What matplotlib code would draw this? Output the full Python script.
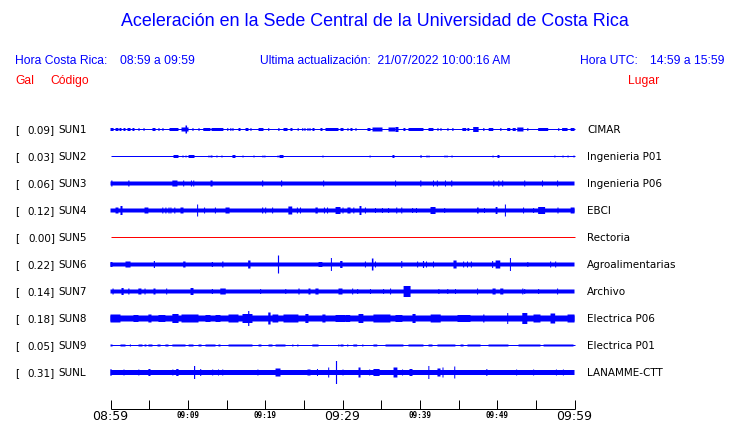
import matplotlib

matplotlib.use("Agg")
import matplotlib.pyplot as plt

BLUE = "#0000ff"
RED = "#ff0000"

STATIONS = ["SUN1", "SUN2", "SUN3", "SUN4", "SUN5", "SUN6", "SUN7", "SUN8", "SUN9", "SUNL"]
PEAK_GAL = [0.09, 0.03, 0.06, 0.12, 0.00, 0.22, 0.14, 0.18, 0.05, 0.31]
PLACES = ["CIMAR", "Ingenieria P01", "Ingenieria P06", "EBCI", "Rectoria",
          "Agroalimentarias", "Archivo", "Electrica P06", "Electrica P01", "LANAMME-CTT"]
# background noise half-amplitude of each trace (display units)
BASE_AMP = [0.5, 0.5, 2.0, 2.0, 0.5, 2.0, 2.0, 3.0, 0.5, 2.5]

TIME_TICKS = list(range(0, 61, 5))
TIME_LABELS = {0: "08:59", 10: "09:09", 20: "09:19", 30: "09:29", 40: "09:39", 50: "09:49", 60: "09:59"}
MAJOR_LABELS = [0, 30, 60]

# bursts: (start minute, end minute, half-amplitude)
SUN1_BURSTS = [
    (0.0, 0.4, 1.5), (0.65, 1.03, 1.5), (1.16, 1.42, 1.5), (1.68, 1.94, 1.5), (2.2, 2.59, 1.5),
    (2.84, 3.1, 1.5), (3.62, 3.75, 1.5), (4.27, 4.4, 1.5), (5.43, 5.82, 1.5), (6.2, 6.34, 1.5),
    (6.72, 6.85, 1.5), (7.63, 8.79, 1.5), (9.18, 10.09, 2.0), (9.7, 9.9, 4.0), (10.6, 10.73, 1.5),
    (11.38, 11.51, 1.5), (12.0, 12.93, 1.5), (13.06, 14.6, 1.5), (15.1, 15.23, 1.5), (15.5, 15.6, 1.5),
    (15.77, 15.9, 1.5), (16.55, 16.81, 1.5), (17.46, 17.84, 1.5), (18.1, 18.2, 1.5), (19.14, 19.78, 1.5),
    (20.4, 20.5, 1.5), (21.7, 21.85, 1.5), (22.37, 22.89, 1.5), (23.27, 23.53, 1.5), (24.2, 24.3, 1.5),
    (24.8, 24.9, 1.5), (25.08, 25.2, 1.5), (25.47, 25.6, 1.5), (25.73, 25.85, 1.5), (26.12, 26.38, 1.5),
    (27.15, 27.41, 1.5), (27.8, 29.48, 1.5), (29.74, 30.13, 1.5), (30.64, 30.75, 1.5), (31.03, 31.29, 1.5),
    (31.68, 31.8, 1.5), (33.23, 33.62, 1.5), (33.88, 35.17, 2.0), (35.95, 36.85, 2.0), (36.85, 37.24, 2.5),
    (37.88, 38.14, 1.5), (38.53, 40.47, 1.5), (41.12, 41.76, 1.5), (42.28, 42.4, 1.5), (42.67, 42.8, 1.5),
    (43.57, 43.7, 1.5), (44.2, 44.35, 1.5), (45.5, 46.0, 1.5), (46.15, 46.4, 1.5), (46.9, 47.6, 2.5),
    (48.2, 48.35, 1.5), (48.9, 49.5, 1.5), (50.4, 50.55, 1.5), (51.3, 51.7, 1.5), (52.0, 52.4, 1.5),
    (52.6, 53.4, 2.0), (53.9, 54.0, 1.5), (55.3, 56.6, 1.5), (57.9, 58.0, 1.5), (58.4, 59.1, 1.5),
    (59.5, 60.0, 1.5),
]
SUN2_BURSTS = [
    (8.15, 8.79, 1.5), (9.3, 9.45, 1.0), (9.7, 9.8, 1.0), (10.09, 10.86, 1.5), (12.67, 12.8, 1.0),
    (12.93, 13.19, 1.0), (13.7, 13.83, 1.0), (14.35, 14.48, 1.0), (15.77, 16.16, 1.5), (17.07, 17.2, 1.0),
    (18.49, 18.62, 1.0), (19.65, 19.78, 1.0), (19.9, 20.0, 1.0), (21.6, 21.7, 1.0), (21.85, 22.37, 1.5),
    (27.41, 27.54, 1.0), (33.5, 33.62, 1.0), (36.46, 36.72, 1.5), (40.09, 40.2, 1.5), (40.86, 41.0, 1.0),
    (41.12, 41.25, 1.0), (43.19, 43.3, 1.0), (43.45, 43.57, 1.0), (44.1, 44.2, 1.0), (49.4, 49.5, 1.0),
    (50.04, 50.3, 1.5), (57.4, 57.5, 1.0), (58.45, 58.55, 1.0), (59.1, 59.2, 1.0), (59.87, 60.0, 1.0),
]
SUN3_BURSTS = [
    (0.1, 0.25, 3.0), (2.3, 2.45, 3.0), (8.0, 8.66, 3.0), (9.4, 9.5, 3.0), (10.4, 10.5, 3.0),
    (10.7, 10.8, 3.0), (12.93, 13.2, 3.0), (19.6, 19.75, 3.0), (22.05, 22.2, 3.0), (27.5, 27.6, 3.0),
    (36.8, 36.9, 3.0), (40.05, 40.2, 3.0), (41.7, 41.8, 3.0), (42.2, 42.3, 3.0), (43.25, 43.35, 3.0),
    (44.05, 44.2, 3.0), (49.5, 49.6, 3.0), (50.15, 50.25, 3.0), (50.65, 50.75, 3.0), (53.5, 53.6, 3.0),
    (55.8, 55.9, 3.0), (57.75, 57.85, 3.0),
]
SUN4_BURSTS = [
    (0.65, 1.03, 3.0), (1.29, 1.55, 4.5), (4.4, 4.9, 3.0), (6.7, 6.8, 3.0), (7.1, 7.2, 3.0),
    (7.5, 7.6, 3.0), (7.75, 7.85, 3.0), (8.25, 8.35, 3.0), (9.05, 9.44, 3.0), (11.2, 11.3, 6.0),
    (12.1, 12.2, 3.0), (13.5, 13.6, 3.0), (14.87, 15.4, 3.0), (19.6, 19.75, 3.0), (20.0, 20.1, 3.0),
    (20.9, 21.0, 3.0), (23.0, 23.5, 4.0), (24.1, 24.2, 3.0), (24.5, 24.6, 3.0), (26.5, 26.8, 3.0),
    (27.6, 27.7, 3.0), (28.0, 28.1, 3.0), (29.1, 29.74, 3.5), (30.0, 30.1, 3.0), (30.64, 31.04, 3.0),
    (31.4, 31.5, 3.0), (32.2, 32.45, 4.5), (32.9, 33.0, 3.0), (34.2, 34.3, 2.5), (35.1, 35.2, 2.5),
    (35.9, 36.0, 2.5), (36.95, 37.05, 3.0), (37.6, 37.7, 3.0), (39.0, 39.1, 2.5), (39.5, 39.6, 2.5),
    (41.38, 42.03, 3.5), (43.15, 43.25, 2.5), (47.4, 47.6, 3.0), (48.3, 48.4, 2.5), (49.8, 50.04, 3.5),
    (51.0, 51.1, 6.0), (53.35, 53.45, 3.0), (54.65, 54.75, 2.5), (55.3, 56.2, 3.5), (57.8, 57.9, 3.0),
    (59.5, 60.0, 3.0),
]
SUN5_BURSTS = []
SUN6_BURSTS = [
    (0.0, 0.26, 2.5), (1.94, 2.59, 3.0), (5.6, 5.75, 3.5), (9.4, 9.7, 3.0), (13.1, 13.25, 2.5),
    (14.45, 14.6, 3.0), (17.8, 18.1, 4.0), (21.65, 21.8, 9.0), (26.9, 27.4, 2.5), (28.5, 28.6, 6.5),
    (29.7, 30.0, 3.5), (32.9, 33.0, 3.0), (33.8, 34.0, 6.0), (34.2, 34.3, 3.0), (37.6, 37.7, 3.5),
    (39.65, 39.75, 3.0), (40.4, 40.55, 3.5), (40.8, 40.9, 3.0), (41.7, 41.8, 3.0), (44.35, 44.75, 4.0),
    (45.6, 45.7, 3.0), (46.1, 46.2, 3.0), (46.6, 46.7, 3.0), (49.35, 49.45, 3.5), (49.8, 50.4, 4.0),
    (51.65, 51.75, 6.5), (53.9, 54.0, 2.5), (56.85, 56.95, 3.0), (57.5, 57.6, 3.0),
]
SUN7_BURSTS = [
    (0.26, 0.4, 3.0), (1.42, 1.7, 3.5), (2.3, 2.45, 3.0), (3.6, 4.0, 3.0), (4.4, 4.5, 3.0),
    (5.56, 5.82, 3.0), (7.2, 7.3, 3.0), (10.35, 10.73, 3.5), (13.1, 13.25, 2.5), (14.2, 14.9, 3.0),
    (19.35, 19.45, 2.5), (22.6, 22.7, 2.5), (24.3, 24.45, 3.0), (25.6, 25.86, 3.0), (26.5, 26.9, 3.0),
    (29.48, 30.0, 3.0), (31.25, 31.35, 3.0), (31.9, 32.0, 2.5), (33.55, 33.65, 2.5), (35.25, 35.35, 2.5),
    (36.15, 36.25, 3.0), (37.9, 38.8, 5.5), (42.4, 42.5, 2.5), (43.55, 43.65, 2.5), (44.55, 44.65, 2.5),
    (47.4, 47.5, 3.0), (49.4, 49.8, 3.0), (50.4, 50.8, 3.0), (53.25, 53.35, 3.0), (53.5, 53.6, 2.5),
    (55.3, 55.4, 2.5), (57.75, 57.85, 3.0),
]
SUN8_BURSTS = [
    (0.0, 1.29, 4.0), (2.97, 3.62, 3.5), (4.9, 5.3, 4.0), (6.2, 7.1, 3.5), (8.0, 8.8, 4.5),
    (9.18, 11.38, 4.0), (12.28, 12.93, 3.5), (13.58, 14.22, 3.5), (15.26, 16.55, 4.0), (17.07, 18.36, 4.5),
    (17.8, 17.95, 7.5), (20.4, 20.7, 6.0), (20.95, 21.7, 4.0), (22.37, 24.3, 4.0), (25.2, 25.6, 4.5),
    (27.4, 27.8, 4.0), (29.1, 30.4, 3.5), (30.4, 31.0, 3.5), (32.07, 32.7, 4.5), (34.0, 36.2, 4.0),
    (36.85, 37.75, 3.5), (39.05, 39.45, 4.5), (41.4, 42.7, 4.0), (44.87, 46.55, 3.5), (48.2, 48.35, 4.0),
    (51.3, 51.4, 5.5), (53.25, 53.9, 5.5), (54.7, 55.6, 4.0), (56.9, 57.5, 5.0), (59.1, 60.0, 4.0),
]
SUN9_BURSTS = [
    (0.0, 0.26, 1.0), (1.29, 1.94, 1.0), (2.5, 2.65, 1.0), (3.62, 4.14, 1.0), (4.4, 4.65, 1.0),
    (4.9, 5.43, 1.0), (6.08, 6.47, 1.0), (7.1, 7.5, 1.0), (8.0, 9.7, 1.0), (10.1, 10.73, 1.0),
    (11.38, 11.77, 1.0), (12.28, 13.58, 1.0), (13.96, 14.22, 1.0), (15.26, 18.36, 1.0), (19.14, 19.52, 1.0),
    (20.43, 20.95, 1.0), (21.34, 22.63, 1.0), (23.5, 23.65, 1.0), (24.15, 24.3, 1.0), (26.1, 26.9, 1.0),
    (29.45, 29.6, 1.0), (29.74, 30.13, 1.0), (30.6, 30.75, 1.0), (31.4, 31.9, 1.0), (32.55, 32.7, 1.0),
    (34.0, 34.5, 1.0), (35.56, 37.88, 1.0), (38.53, 40.47, 1.0), (41.12, 41.64, 1.0), (42.28, 44.6, 1.0),
    (45.26, 45.65, 1.0), (46.16, 47.85, 1.0), (48.88, 51.46, 1.0), (52.76, 55.6, 1.0), (56.0, 59.87, 1.0),
]
SUNL_BURSTS = [
    (0.0, 0.13, 3.5), (1.68, 1.8, 3.0), (3.6, 3.7, 3.0), (4.9, 5.17, 3.5), (8.0, 8.1, 3.0),
    (8.5, 8.8, 3.5), (10.8, 10.95, 6.5), (11.6, 11.7, 3.5), (13.15, 13.25, 3.0), (13.9, 14.0, 3.0),
    (14.45, 14.55, 3.0), (19.0, 19.1, 3.0), (21.34, 21.98, 4.0), (25.47, 25.86, 3.0), (26.7, 26.8, 3.5),
    (28.15, 28.25, 5.0), (29.15, 29.3, 11.5), (30.0, 30.13, 3.0), (32.07, 32.33, 5.0), (33.45, 33.55, 3.0),
    (34.0, 34.8, 3.5), (36.6, 37.1, 5.0), (37.7, 37.8, 3.0), (38.66, 39.05, 3.5), (41.1, 41.2, 6.5),
    (42.28, 42.67, 4.0), (42.93, 43.06, 5.0), (44.45, 44.55, 6.0), (48.6, 48.7, 3.5), (52.45, 52.55, 3.0),
    (54.65, 54.75, 3.0), (57.6, 57.7, 3.0), (58.5, 58.6, 3.0),
]
BURSTS = [SUN1_BURSTS, SUN2_BURSTS, SUN3_BURSTS, SUN4_BURSTS, SUN5_BURSTS,
          SUN6_BURSTS, SUN7_BURSTS, SUN8_BURSTS, SUN9_BURSTS, SUNL_BURSTS]

W, H = 740, 423
fig = plt.figure(figsize=(W / 100, H / 100), dpi=100)
ax = fig.add_axes([0, 0, 1, 1])
# x in minutes after 08:59 (trace runs from px 110 to 574), y in pixels from top;
# half-pixel offsets keep 1 px strokes on a single pixel row/column
px_per_min = (574 - 110) / 60
ax.set_xlim(-110.5 / px_per_min, 60 + (W - 574.5) / px_per_min)
ax.set_ylim(H, 0)
ax.axis("off")


def fig_text(x, y, s, **kw):
    ax.text(x / W, 1 - y / H, s, transform=ax.transAxes, **kw)


head = dict(family="Liberation Sans", fontsize=8.7, va="center")
fig_text(375, 22, "Aceleración en la Sede Central de la Universidad de Costa Rica",
         family="Liberation Sans", fontsize=12.9, color=BLUE, ha="center", va="center")
fig_text(15, 61, "Hora Costa Rica:", color=BLUE, ha="left", **head)
fig_text(120, 61, "08:59 a 09:59", color=BLUE, ha="left", **head)
fig_text(260, 61, "Ultima actualización:  21/07/2022 10:00:16 AM", color=BLUE, ha="left", **head)
fig_text(580, 61, "Hora UTC:", color=BLUE, ha="left", **head)
fig_text(725, 61, "14:59 a 15:59", color=BLUE, ha="right", **head)
fig_text(15, 81, "Gal", color=RED, ha="left", **head)
fig_text(50, 81, "Código", color=RED, ha="left", **head)
fig_text(628, 81, "Lugar", color=RED, ha="left", **head)

lab = dict(family="DejaVu Sans", fontsize=7.5, va="center", color="black")
for i, name in enumerate(STATIONS):
    y = 129.5 + 27 * i
    color = RED if PEAK_GAL[i] == 0 else BLUE
    base = BASE_AMP[i]
    if base <= 0.5:
        ax.hlines(y, 0, 60, color=color, linewidth=0.72)
    else:
        ax.bar(0, 2 * base, width=60, bottom=y - base, align="edge", color=color,
               linewidth=0, snap=False)
    for t0, t1, amp in BURSTS[i]:
        ax.bar(t0, 2 * amp, width=max(t1 - t0, 0.13), bottom=y - amp, align="edge",
               color=color, linewidth=0, snap=False)
    fig_text(15, y + 0.5, "[", ha="left", **lab)
    fig_text(55, y + 0.5, f"{PEAK_GAL[i]:.2f}]", ha="right", **lab)
    fig_text(58, y + 0.5, name, ha="left", **lab)
    fig_text(587, y + 0.5, PLACES[i], ha="left", **lab)

# time axis
ax.hlines(409.5, 0, 60, color="black", linewidth=0.72)
ax.vlines(TIME_TICKS, 400, 409.5, color="black", linewidth=0.72)
for t, label in TIME_LABELS.items():
    if t in MAJOR_LABELS:
        ax.text(t, 417, label, family="DejaVu Sans", fontsize=9, ha="center", va="center")
    else:
        ax.text(t, 415, label, family="DejaVu Sans Mono", fontsize=5.5, fontweight="bold",
                ha="center", va="center")

fig.savefig("out.png", dpi=100)
